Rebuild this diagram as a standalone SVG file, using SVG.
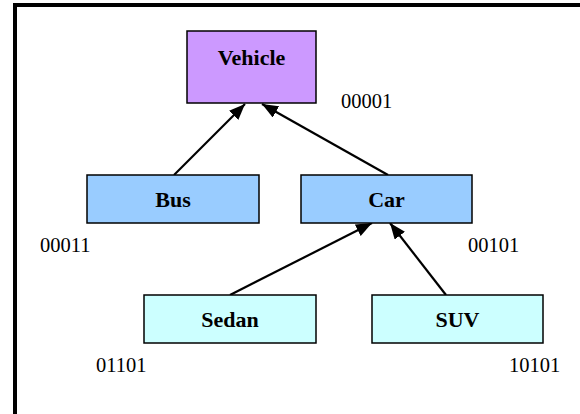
<svg xmlns="http://www.w3.org/2000/svg" width="580" height="414" viewBox="0 0 580 414" font-family="'Liberation Serif', 'DejaVu Serif', serif">
<style>
.box{stroke:#000;stroke-width:1.5}
.lbl{font-family:'Liberation Serif','DejaVu Serif',serif;font-size:22px;font-weight:bold;text-anchor:middle;fill:#000}
.num{font-family:'Liberation Serif','DejaVu Serif',serif;font-size:20.5px;fill:#000}
.edge{stroke:#000;stroke-width:2.2;fill:none;marker-end:url(#arr)}
</style>
<defs>
<marker id="arr" markerUnits="userSpaceOnUse" markerWidth="17" markerHeight="13" refX="16" refY="6.5" orient="auto">
<path d="M0,0 L16,6.5 L0,13 Z" fill="#000"/>
</marker>
</defs>
<rect x="0" y="0" width="580" height="414" fill="#fff"/>
<rect x="15" y="5" width="620" height="460" fill="none" stroke="#000" stroke-width="4"/>
<g id="connectors">
<line class="edge" x1="174" y1="175" x2="245" y2="104"/>
<line class="edge" x1="388" y1="175" x2="262" y2="104"/>
<line class="edge" x1="230" y1="295" x2="372" y2="223"/>
<line class="edge" x1="446" y1="295" x2="390" y2="223"/>
</g>
<g id="vehicle">
<rect class="box" x="187" y="31" width="129" height="72" fill="#cc99ff"/>
<text class="lbl" x="251.5" y="65">Vehicle</text>
<text class="num" x="341" y="108">00001</text>
</g>
<g id="bus">
<rect class="box" x="87" y="175" width="172" height="48" fill="#99ccff"/>
<text class="lbl" x="173" y="207">Bus</text>
<text class="num" x="40" y="252">00011</text>
</g>
<g id="car">
<rect class="box" x="301" y="175" width="171" height="48" fill="#99ccff"/>
<text class="lbl" x="386.5" y="207">Car</text>
<text class="num" x="468" y="252">00101</text>
</g>
<g id="sedan">
<rect class="box" x="144" y="295" width="172" height="48" fill="#ccffff"/>
<text class="lbl" x="230" y="327">Sedan</text>
<text class="num" x="96" y="372">01101</text>
</g>
<g id="suv">
<rect class="box" x="372" y="295" width="171" height="48" fill="#ccffff"/>
<text class="lbl" x="457.5" y="327">SUV</text>
<text class="num" x="509" y="372">10101</text>
</g>
</svg>
